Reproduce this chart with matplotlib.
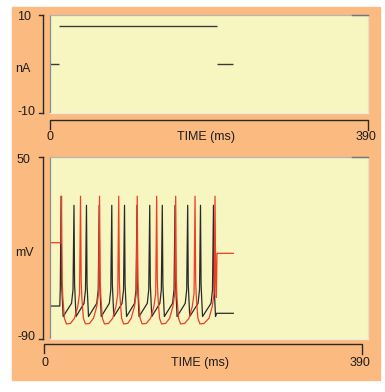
import matplotlib
matplotlib.use("Agg")
import matplotlib.pyplot as plt
from matplotlib.lines import Line2D
from matplotlib.patches import Rectangle

plt.rcParams.update(
    {
        "font.family": ["Liberation Sans", "DejaVu Sans"],
        "font.size": 9,
    }
)

# ---------------------------
# Data
# ---------------------------
t_max = 390  # ms, x range of both panels

# injected current (nA)
stim_on = 11.6
stim_off = 205.0
sim_end = 224.6
stim_amp = 7.8

# black membrane trace (ms, mV)
black_start_t = [0, 12.0, 12.6]
black_start_v = [-64.6, -64.6, -51]
black_peak_t = [13.6, 29.4, 44.7, 60.3, 75.7, 91.3, 106.6, 122.2, 137.6, 153.2, 168.7, 184.4, 200.3]
black_peak_v = [20, 13, 13, 13, 13, 13, 13, 13, 13, 13, 13, 13, 13]
black_rise_dt = [-3.0, -1.2]
black_rise_v = [-62.5, -52]
black_fall_dt = [0.7, 2.5]
black_fall_v = [-48, -72.7]
black_end_t = [204.2, 224.6]
black_end_v = [-70.2, -70.2]

# red membrane trace (ms, mV)
red_start_t = [0, 13.6]
red_start_v = [-15.8, -15.8]
red_peak_t = [14.1, 37.4, 60.7, 84.2, 106.9, 130.7, 154.0, 177.7, 202.2]
red_peak_v = [20, 20, 20, 20, 20, 20, 20, 20, 20]
red_rise_dt = [-7.4, -3.4, -1.2]
red_rise_v = [-74, -65, -55]
red_fall_dt = [0.8, 1.6, 3.5, 6.0, 11.0]
red_fall_v = [-45, -58, -74, -78.4, -78]
red_end_t = [204.6, 224.6]
red_end_v = [-24, -24]

ORANGE = "#fbba80"
YELLOW = "#f7f6c0"
INK = "#2a2a2a"
RED = "#f03c28"

W, H = 385, 392


def trace(start_t, start_v, peak_t, peak_v, rise_dt, rise_v, fall_dt, fall_v, end_t, end_v):
    t, v = list(start_t), list(start_v)
    for i, (p, pv) in enumerate(zip(peak_t, peak_v)):
        if i > 0:
            t += [p + d for d in rise_dt]
            v += list(rise_v)
        t.append(p)
        v.append(pv)
        for d, fv in zip(fall_dt, fall_v):
            if p + d < end_t[0]:
                t.append(p + d)
                v.append(fv)
    return t + list(end_t), v + list(end_v)


# ---------------------------
# Figure helpers (pixel -> figure coords)
# ---------------------------
def fx(x):
    return x / W


def fy(y):
    return 1 - y / H


def fline(fig, xs, ys, color=INK, lw=1.0):
    fig.add_artist(
        Line2D([fx(x) for x in xs], [fy(y) for y in ys],
               transform=fig.transFigure, color=color, lw=lw)
    )


def ftext(fig, x, y, s, ha="center"):
    fig.text(fx(x), fy(y), s, ha=ha, va="center", color="#1e1e1e", fontsize=9)


def panel(fig, top, bottom):
    ax = fig.add_axes([fx(50), fy(bottom), (368.3 - 50) / W, (bottom - top) / H])
    ax.set_facecolor(YELLOW)
    ax.set_xticks([])
    ax.set_yticks([])
    ax.spines["left"].set_color("#8c8c8c")
    ax.spines["top"].set_color("#b4b6b4")
    ax.spines["right"].set_color("#e2e2d4")
    ax.spines["bottom"].set_color("#ecece0")
    for s in ax.spines.values():
        s.set_linewidth(0.9)
    ax.plot([0.948, 1.0], [1.0, 1.0], transform=ax.transAxes,
            color="#6f7680", lw=1.0, clip_on=False, zorder=5)
    return ax


def yruler(fig, top, bottom, lo, hi, unit, unit_x):
    fline(fig, [43.3, 43.3], [top, bottom])
    fline(fig, [39.3, 43.3], [top, top])
    fline(fig, [39.3, 43.3], [bottom, bottom])
    ftext(fig, 17, top + 2.5, hi, ha="left")
    ftext(fig, 17, bottom - 1.5, lo, ha="left")
    ftext(fig, unit_x, (top + bottom) / 2 + 5, unit)


def xruler(fig, y, left, right, label_y):
    fline(fig, [left, left, right, right], [y + 9, y, y, y + 9.5])
    ftext(fig, left + 0.5, label_y, "0")
    ftext(fig, (left + right) / 2 - 3, label_y, "TIME (ms)")
    ftext(fig, right - 1.5, label_y, str(t_max))


fig = plt.figure(figsize=(W / 100, H / 100), dpi=100, facecolor="white")
fig.add_artist(Rectangle((fx(12), fy(380)), fx(380) - fx(12), fy(7) - fy(380),
                         transform=fig.transFigure, color=ORANGE, zorder=0))

# ---------------------------
# Current panel
# ---------------------------
ax1 = panel(fig, 15, 113.3)
ax1.hlines([0, stim_amp, 0], [0, stim_on, stim_off], [stim_on, stim_off, sim_end],
           color="#3a3a3a", lw=1.0)
ax1.set_xlim(0, t_max)
ax1.set_ylim(-10, 10)
yruler(fig, 15, 113.3, "-10", "10", "nA", 22.7)
xruler(fig, 120, 50, 367.7, 137.3)

# ---------------------------
# Voltage panel
# ---------------------------
ax2 = panel(fig, 157.3, 339)
bt, bv = trace(black_start_t, black_start_v, black_peak_t, black_peak_v,
               black_rise_dt, black_rise_v, black_fall_dt, black_fall_v,
               black_end_t, black_end_v)
rt, rv = trace(red_start_t, red_start_v, red_peak_t, red_peak_v,
               red_rise_dt, red_rise_v, red_fall_dt, red_fall_v,
               red_end_t, red_end_v)
ax2.plot(bt, bv, color=INK, lw=0.9)
ax2.plot(rt, rv, color=RED, lw=0.9)
ax2.set_xlim(0, t_max)
ax2.set_ylim(-90, 50)
yruler(fig, 157.3, 339, "-90", "50", "mV", 24)
xruler(fig, 344.3, 44.3, 361.7, 363.3)

fig.savefig("out.png", dpi=100, facecolor="white")
